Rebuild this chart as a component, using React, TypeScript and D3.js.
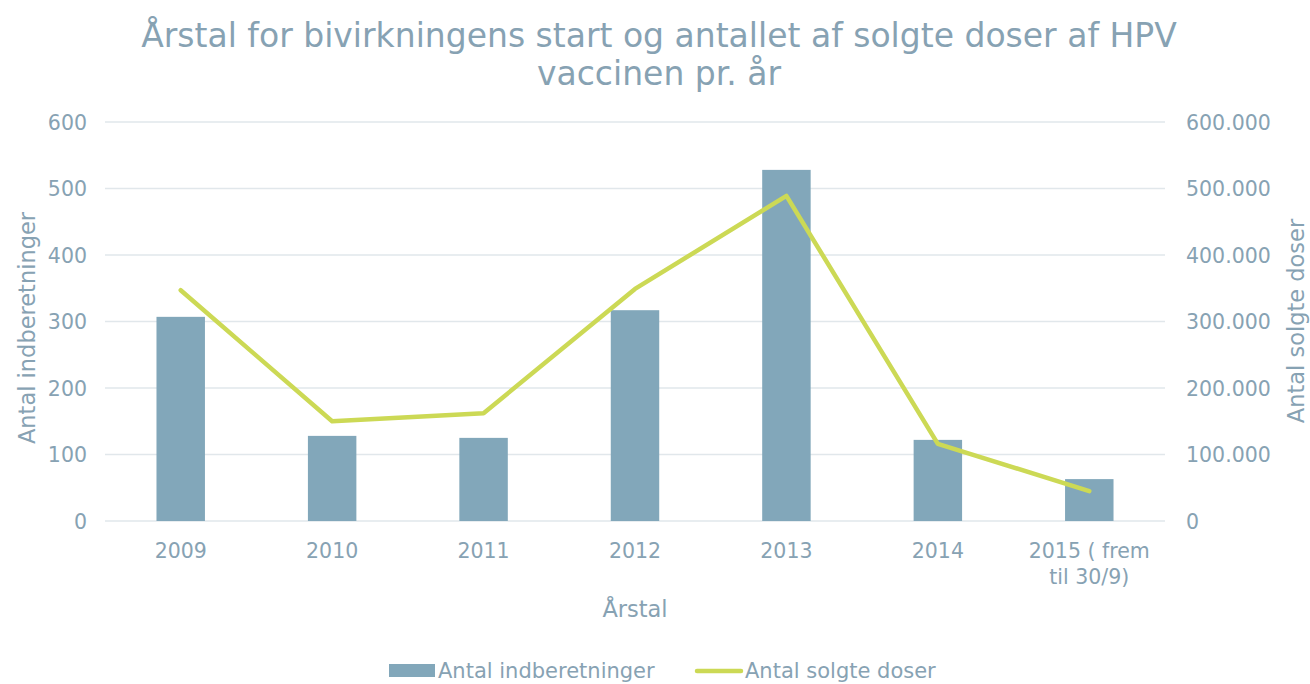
import React from "react";
import * as d3 from "d3";

const categories = ["2009", "2010", "2011", "2012", "2013", "2014", "2015 ( frem|til 30/9)"];
const reports = [307, 128, 125, 317, 528, 122, 63];
const doses = [347000, 150000, 162000, 349000, 489000, 116000, 45000];
const leftTicks = [0, 100, 200, 300, 400, 500, 600];
const rightTicks = [0, 100000, 200000, 300000, 400000, 500000, 600000];

const W = 1310, H = 684;
const M = { left: 105, right: 1165, top: 122, bottom: 521 };
const TEXT = "#87a2b3";
const BAR = "#82a7ba";
const LINE = "#ccd955";
const GRID = "#e1e7eb";
const FONT = "'DejaVu Sans', Verdana, sans-serif";

export default function App() {
  const x = d3.scaleBand<string>().domain(categories).range([M.left, M.right]).paddingInner(0.68).paddingOuter(0.34);
  const yL = d3.scaleLinear().domain([0, 600]).range([M.bottom, M.top]);
  const yR = d3.scaleLinear().domain([0, 600000]).range([M.bottom, M.top]);
  const fmt = (v: number) => (v === 0 ? "0" : d3.format(",")(v).replace(/,/g, "."));
  const cx = (c: string) => (x(c) as number) + x.bandwidth() / 2;
  const line = d3.line<number>().x((_, i) => cx(categories[i])).y((d) => yR(d));

  return (
    <svg width={W} height={H} style={{ position: "absolute", left: 0, top: 0, fontFamily: FONT }}>
      <rect width={W} height={H} fill="#fff" />
      <text x={659} y={47} textAnchor="middle" fontSize={33} fill={TEXT}>
        Årstal for bivirkningens start og antallet af solgte doser af HPV
      </text>
      <text x={659} y={85} textAnchor="middle" fontSize={33} fill={TEXT}>
        vaccinen pr. år
      </text>
      {leftTicks.map((t) => (
        <g key={t}>
          <line x1={M.left} x2={M.right} y1={yL(t)} y2={yL(t)} stroke={GRID} strokeWidth={1.3} />
          <text x={87} y={yL(t) + 7.5} textAnchor="end" fontSize={20.5} fill={TEXT}>{t}</text>
        </g>
      ))}
      {rightTicks.map((t) => (
        <text key={t} x={1186} y={yR(t) + 7.5} textAnchor="start" fontSize={20.5} fill={TEXT}>{fmt(t)}</text>
      ))}
      {categories.map((c, i) => (
        <rect key={c} x={x(c)} y={yL(reports[i])} width={x.bandwidth()} height={M.bottom - yL(reports[i])} fill={BAR} />
      ))}
      <path d={line(doses) || ""} fill="none" stroke={LINE} strokeWidth={4.5} strokeLinejoin="round" strokeLinecap="round" />
      {categories.map((c) => (
        <text key={c} x={cx(c)} y={558} textAnchor="middle" fontSize={20.5} fill={TEXT}>
          {c.split("|").map((s, j) => (
            <tspan key={j} x={cx(c)} dy={j === 0 ? 0 : 26}>{s}</tspan>
          ))}
        </text>
      ))}
      <text x={635} y={617} textAnchor="middle" fontSize={22.5} fill={TEXT}>Årstal</text>
      <text transform={`translate(35,328) rotate(-90)`} textAnchor="middle" fontSize={22.5} fill={TEXT}>Antal indberetninger</text>
      <text transform={`translate(1304,321) rotate(-90)`} textAnchor="middle" fontSize={22.5} fill={TEXT}>Antal solgte doser</text>
      <rect x={389} y={664} width={46} height={13} fill={BAR} />
      <text x={438} y={678} fontSize={21} fill={TEXT}>Antal indberetninger</text>
      <line x1={697} x2={741} y1={671} y2={671} stroke={LINE} strokeWidth={4.5} strokeLinecap="round" />
      <text x={745} y={678} fontSize={21} fill={TEXT}>Antal solgte doser</text>
    </svg>
  );
}
